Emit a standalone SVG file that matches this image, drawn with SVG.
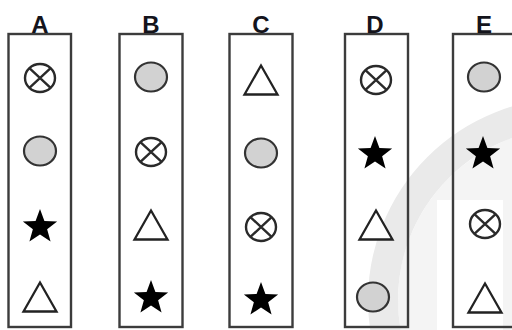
<svg xmlns="http://www.w3.org/2000/svg" xmlns:xlink="http://www.w3.org/1999/xlink" width="512" height="330" viewBox="0 0 512 330">
  <style>
    .box { fill: none; stroke: #3c3c3c; stroke-width: 2.4; }
    .lbl { font-family: "Liberation Sans", Arial, sans-serif; font-weight: bold; font-size: 24px; fill: #14141c; text-anchor: middle; }
    .ln { fill: none; stroke: #2a2a2a; stroke-width: 2.4; }
    .dot { fill: #d2d2d2; stroke: #333; stroke-width: 2.2; }
    .st { fill: #000; }
    .tri { fill: #fff; stroke: #222; stroke-width: 2.3; stroke-linejoin: miter; }
  </style>
  <defs>
    <g id="ox">
      <ellipse cx="0" cy="0" rx="15" ry="14" class="ln"/>
      <path d="M-10.6,-9.9 L10.6,9.9 M10.6,-9.9 L-10.6,9.9" class="ln"/>
    </g>
    <ellipse id="dot" cx="0" cy="0" rx="16" ry="14.5" class="dot"/>
    <path id="star" class="st" d="M0,-18 L4.41,-6.07 L17.12,-5.56 L7.13,2.32 L10.58,14.56 L0,7.5 L-10.58,14.56 L-7.13,2.32 L-17.12,-5.56 L-4.41,-6.07 Z"/>
    <path id="tri" class="tri" d="M0,-14.5 L16.5,14.5 L-16.5,14.5 Z"/>
  </defs>
  <rect x="0" y="0" width="512" height="330" fill="#fff"/>
  <g id="watermark">
    <circle cx="570" cy="300" r="172" fill="#f4f4f4"/>
    <circle cx="570" cy="300" r="187" fill="none" stroke="#eaeaea" stroke-width="30"/>
    <rect x="437" y="200" width="66" height="130" fill="#fff"/>
  </g>
  <g id="colA">
    <rect class="box" x="8.5" y="34" width="62.5" height="293"/>
    <text class="lbl" x="40" y="33">A</text>
    <use xlink:href="#ox" x="40" y="78"/>
    <use xlink:href="#dot" x="40" y="151"/>
    <use xlink:href="#star" x="40" y="227"/>
    <use xlink:href="#tri" x="40" y="297"/>
  </g>
  <g id="colB">
    <rect class="box" x="119.5" y="34" width="63" height="293"/>
    <text class="lbl" x="151" y="33">B</text>
    <use xlink:href="#dot" x="151" y="77"/>
    <use xlink:href="#ox" x="151" y="152"/>
    <use xlink:href="#tri" x="151" y="225"/>
    <use xlink:href="#star" x="151" y="298"/>
  </g>
  <g id="colC">
    <rect class="box" x="229.5" y="34" width="63" height="293"/>
    <text class="lbl" x="261" y="33">C</text>
    <use xlink:href="#tri" x="261" y="80"/>
    <use xlink:href="#dot" x="261" y="153"/>
    <use xlink:href="#ox" x="261" y="227"/>
    <use xlink:href="#star" x="261" y="300"/>
  </g>
  <g id="colD">
    <rect class="box" x="345" y="34" width="63" height="293"/>
    <text class="lbl" x="375" y="33">D</text>
    <use xlink:href="#ox" x="376" y="80"/>
    <use xlink:href="#star" x="375" y="154"/>
    <use xlink:href="#tri" x="376" y="225"/>
    <use xlink:href="#dot" x="373" y="297"/>
  </g>
  <g id="colE">
    <rect class="box" x="453" y="34" width="63" height="293"/>
    <text class="lbl" x="484" y="33">E</text>
    <use xlink:href="#dot" x="484" y="77"/>
    <use xlink:href="#star" x="483" y="154"/>
    <use xlink:href="#ox" x="485" y="224"/>
    <use xlink:href="#tri" x="485" y="298"/>
  </g>
</svg>
